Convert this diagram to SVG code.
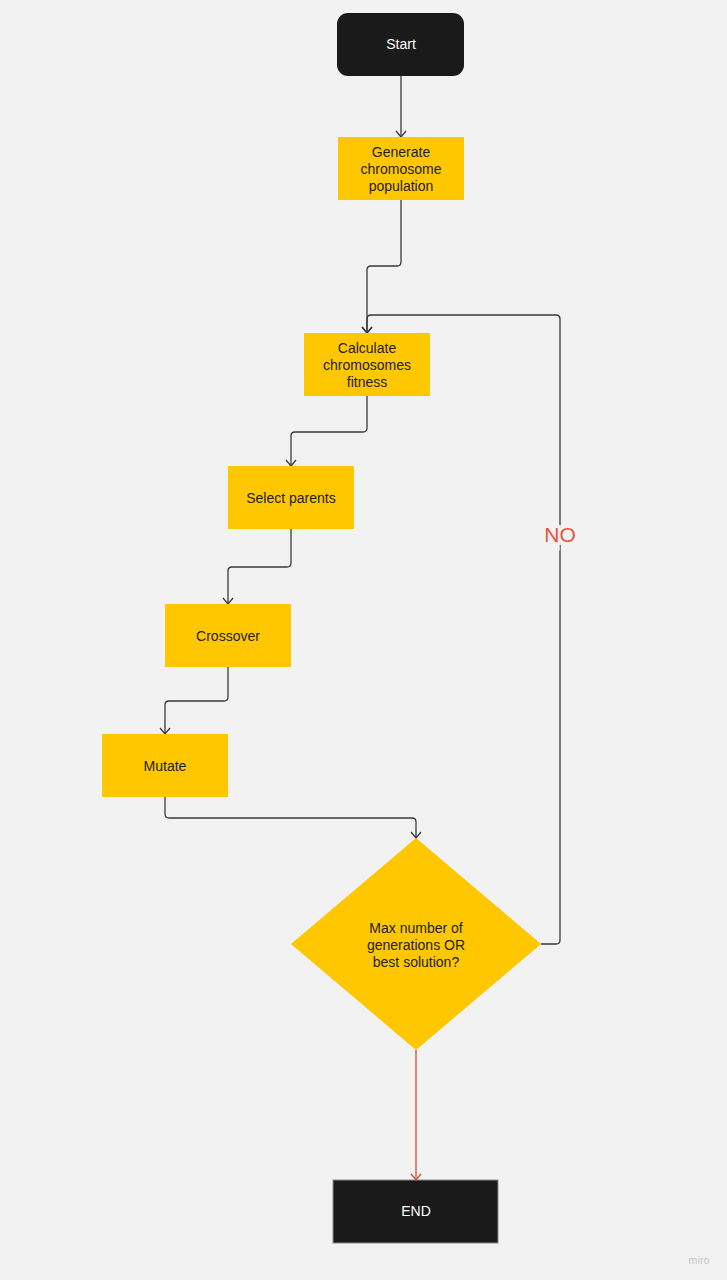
<svg xmlns="http://www.w3.org/2000/svg" width="727" height="1280" viewBox="0 0 727 1280">
<defs>
<style>
.box{fill:#ffc700;}
.dark{fill:#1a1a1a;}
.t{font-family:"Liberation Sans",Arial,sans-serif;font-size:14px;fill:#222222;text-anchor:middle;}
.tw{font-family:"Liberation Sans",Arial,sans-serif;font-size:14px;fill:#ffffff;text-anchor:middle;}
.c{fill:none;stroke:#3a3a3a;stroke-width:1.3;stroke-linejoin:round;}
.r{fill:none;stroke:#d94a35;stroke-width:1.3;}
</style>
<marker id="ah" viewBox="0 0 12 12" refX="11" refY="6" markerWidth="12" markerHeight="12" markerUnits="userSpaceOnUse" orient="auto">
<path d="M5,1 L11,6 L5,11" fill="none" stroke="#3a3a3a" stroke-width="1.3"/>
</marker>
<marker id="ahr" viewBox="0 0 12 12" refX="11" refY="6" markerWidth="12" markerHeight="12" markerUnits="userSpaceOnUse" orient="auto">
<path d="M5,1 L11,6 L5,11" fill="none" stroke="#d94a35" stroke-width="1.3"/>
</marker>
</defs>
<rect width="727" height="1280" fill="#f2f2f2"/>
<g id="connectors">
<path class="c" d="M401,76 V137" marker-end="url(#ah)"/>
<path class="c" d="M401,200 V262 Q401,266 397,266 H371 Q367,266 367,270 V333" marker-end="url(#ah)"/>
<path class="c" d="M367,396 V428 Q367,432 363,432 H295 Q291,432 291,436 V466" marker-end="url(#ah)"/>
<path class="c" d="M291,529 V563 Q291,567 287,567 H232 Q228,567 228,571 V604" marker-end="url(#ah)"/>
<path class="c" d="M228,667 V697 Q228,701 224,701 H169 Q165,701 165,705 V734" marker-end="url(#ah)"/>
<path class="c" d="M165,797 V814 Q165,818 169,818 H412 Q416,818 416,822 V838" marker-end="url(#ah)"/>
<path class="c" d="M541,944 H556 Q560,944 560,940 V319 Q560,315 556,315 H371 Q367,315 367,319 V333" marker-end="url(#ah)"/>
<path class="r" d="M416,1050 V1180" marker-end="url(#ahr)"/>
<text x="560" y="542" font-family="Liberation Sans,Arial,sans-serif" font-size="21" fill="#e5543d" text-anchor="middle" style="paint-order:stroke" stroke="#f2f2f2" stroke-width="6">NO</text>
</g>
<g id="start">
<rect class="dark" x="337" y="13" width="127" height="63" rx="11"/>
<text class="tw" x="401" y="49">Start</text>
</g>
<g id="generate">
<rect class="box" x="338" y="137" width="126" height="63"/>
<text class="t" x="401" y="157">Generate</text>
<text class="t" x="401" y="174">chromosome</text>
<text class="t" x="401" y="191">population</text>
</g>
<g id="calculate">
<rect class="box" x="304" y="333" width="126" height="63"/>
<text class="t" x="367" y="353">Calculate</text>
<text class="t" x="367" y="370">chromosomes</text>
<text class="t" x="367" y="387">fitness</text>
</g>
<g id="select">
<rect class="box" x="228" y="466" width="126" height="63"/>
<text class="t" x="291" y="503">Select parents</text>
</g>
<g id="crossover">
<rect class="box" x="165" y="604" width="126" height="63"/>
<text class="t" x="228" y="641">Crossover</text>
</g>
<g id="mutate">
<rect class="box" x="102" y="734" width="126" height="63"/>
<text class="t" x="165" y="771">Mutate</text>
</g>
<g id="decision">
<polygon class="box" points="416,838 541,944 416,1050 291,944"/>
<text class="t" x="416" y="933">Max number of</text>
<text class="t" x="416" y="950">generations OR</text>
<text class="t" x="416" y="967">best solution?</text>
</g>
<g id="end">
<rect class="dark" x="333" y="1180" width="165" height="63" stroke="#8a8a8a" stroke-width="1"/>
<text class="tw" x="416" y="1216">END</text>
</g>
<text x="699" y="1264" font-family="Liberation Sans,Arial,sans-serif" font-size="11" fill="#c8c8c8" text-anchor="middle">miro</text>
</svg>
